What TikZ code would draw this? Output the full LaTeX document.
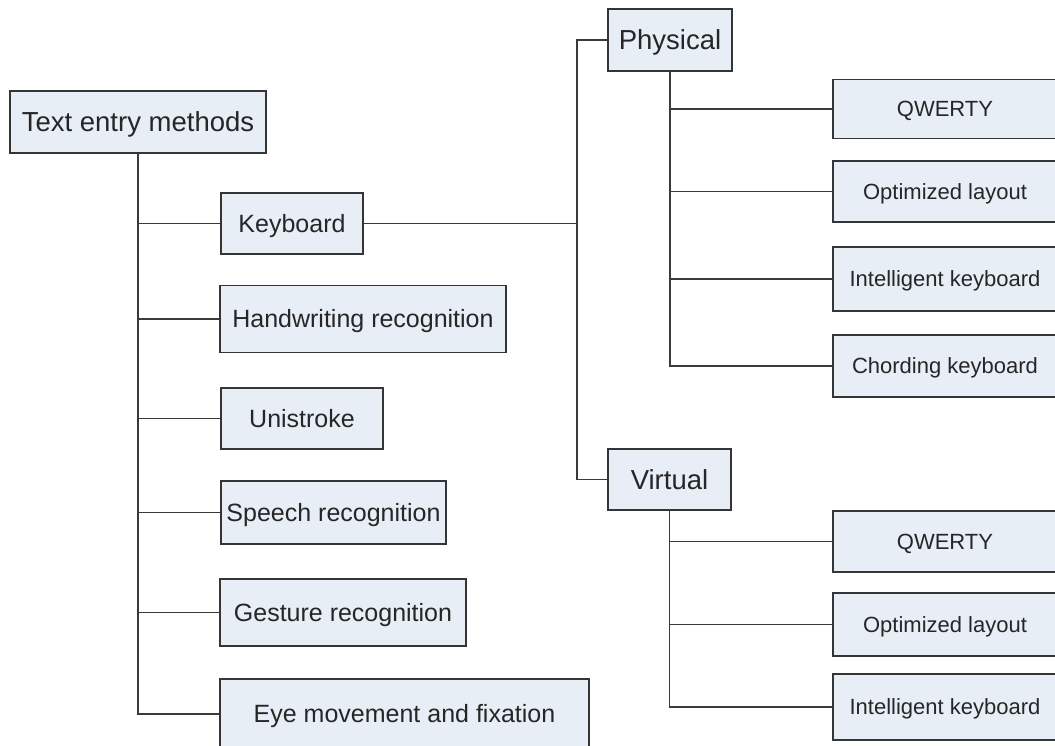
\documentclass[tikz,border=0pt]{standalone}
\usepackage{fontspec}
\setmainfont{Liberation Sans}
\begin{document}
\begin{tikzpicture}[x=1pt,y=-1pt,
  box/.style={draw=boxline, fill=boxfill, line width=1.5pt, inner sep=0pt,
    align=center, text=black!85, text depth=0pt},
  big/.style={box, font=\fontsize{27.5}{32}\selectfont, text height=19.7pt},
  mid/.style={box, font=\fontsize{25}{30}\selectfont, text height=17.9pt},
  small/.style={box, font=\fontsize{22}{26}\selectfont, text height=15.8pt},
  link/.style={draw=linecol, line width=1.5pt}]
\definecolor{boxline}{HTML}{353535}
\definecolor{boxfill}{HTML}{E8EEF6}
\definecolor{linecol}{HTML}{3A3A3A}
\useasboundingbox (0,0) rectangle (1055,746);
\clip (0,0) rectangle (1055,746);

% root and first level
\node[big, minimum width=256, minimum height=62] (root) at (138,122) {Text entry methods};
\node[mid, minimum width=142, minimum height=61] (kb) at (292,223.5) {Keyboard};
\node[mid, minimum width=286, minimum height=67] (hw) at (363,319) {Handwriting recognition};
\node[mid, minimum width=162, minimum height=61] (uni) at (302,418.5) {Unistroke};
\node[mid, minimum width=225, minimum height=63] (sp) at (333.5,512.5) {Speech recognition};
\node[mid, minimum width=246, minimum height=67] (ge) at (343,612.5) {Gesture recognition};
\node[mid, minimum width=369, minimum height=70] (eye) at (404.5,714) {Eye movement and fixation};

% keyboard kinds
\node[big, minimum width=124, minimum height=62] (phys) at (670,40) {Physical};
\node[big, minimum width=123, minimum height=61] (virt) at (669.5,479.5) {Virtual};

% physical layouts
\node[small, minimum width=224, minimum height=59] (pq) at (945,109) {QWERTY};
\node[small, minimum width=224, minimum height=61] (po) at (945,191.5) {Optimized layout};
\node[small, minimum width=224, minimum height=64] (pi) at (945,279) {Intelligent keyboard};
\node[small, minimum width=224, minimum height=62] (pc) at (945,366) {Chording keyboard};

% virtual layouts
\node[small, minimum width=224, minimum height=61] (vq) at (945,541.5) {QWERTY};
\node[small, minimum width=224, minimum height=63] (vo) at (945,624.5) {Optimized layout};
\node[small, minimum width=224, minimum height=66] (vi) at (945,707) {Intelligent keyboard};

% junction points
\coordinate (kj) at (577,223.5);

% connectors from the root
\foreach \c in {kb,hw,uni,sp,ge,eye}
  \draw[link] (root.south) |- (\c.west);

% keyboard to physical / virtual
\draw[link] (kb.east) -- (kj);
\draw[link] (phys.west) -| (kj) |- (virt.west);

% physical and virtual branches
\foreach \c in {pq,po,pi,pc}
  \draw[link] (phys.south) |- (\c.west);
\foreach \c in {vq,vo,vi}
  \draw[link] (virt.south) |- (\c.west);
\end{tikzpicture}
\end{document}
